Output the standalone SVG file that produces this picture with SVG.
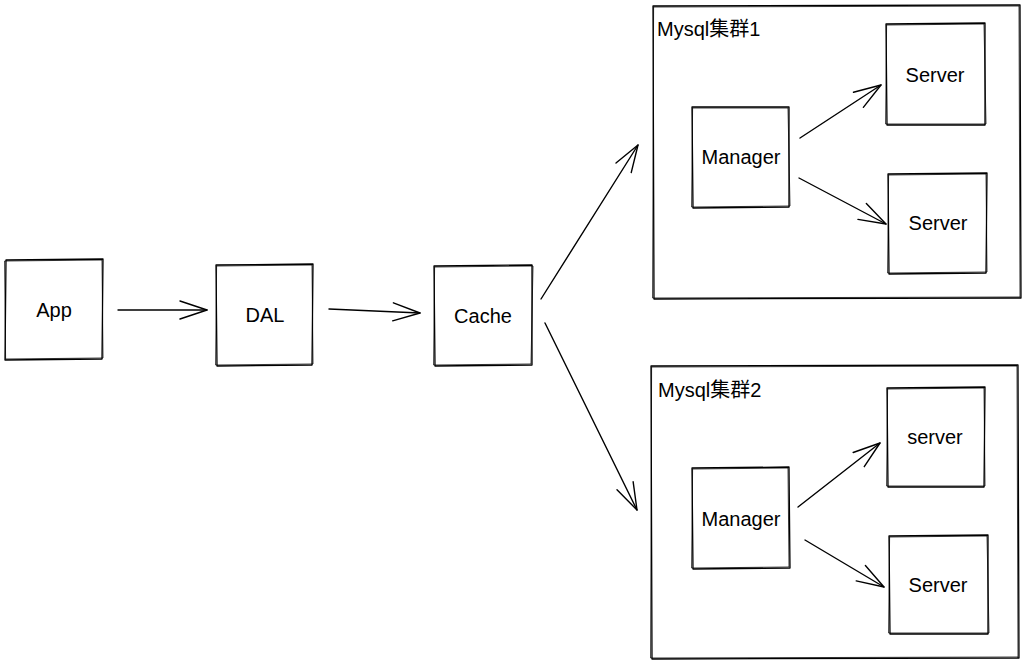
<svg xmlns="http://www.w3.org/2000/svg" width="1028" height="667" viewBox="0 0 1028 667">
<defs>
<style>
.sk{fill:none;stroke:#000;stroke-width:1.3;stroke-linejoin:round;stroke-linecap:round}
.sk2{fill:none;stroke:#000;stroke-width:0.9;stroke-linecap:round;opacity:0.85}
.lbl{font-family:"Liberation Sans",Arial,"Noto Sans CJK SC",sans-serif;font-size:20px;fill:#000}
.c{text-anchor:middle}
.ar{fill:none;stroke:#000;stroke-width:1.4;stroke-linecap:round}
</style>
<marker id="ah" markerUnits="userSpaceOnUse" markerWidth="30" markerHeight="22" refX="28" refY="11" orient="auto" viewBox="0 0 30 22">
<path d="M1,2 L28,11 L1,20" fill="none" stroke="#000" stroke-width="1.4" stroke-linecap="round" stroke-linejoin="round"/>
</marker>
</defs>
<rect width="1028" height="667" fill="#fff"/>

<g id="cluster1">
<path class="sk" d="M653,6 L1020,5 L1021,298 L654,299 Z"/>
<path class="sk2" d="M654,7 L1019,6 L1020,297 L653,298 Z"/>
<text class="lbl" x="657" y="36">Mysql集群1</text>
</g>
<g id="cluster2">
<path class="sk" d="M651,366 L1018,365 L1019,658 L652,659 Z"/>
<path class="sk2" d="M652,367 L1017,366 L1018,657 L651,658 Z"/>
<text class="lbl" x="658" y="397">Mysql集群2</text>
</g>

<g id="app">
<path class="sk" d="M6,260 L103,259 L102,359 L5,360 Z"/>
<path class="sk2" d="M5,261 L102,260 L103,358 L6,359 Z"/>
<text class="lbl c" x="54" y="317">App</text>
</g>
<g id="dal">
<path class="sk" d="M216,265 L313,264 L312,365 L217,366 Z"/>
<path class="sk2" d="M217,266 L312,265 L313,364 L216,365 Z"/>
<text class="lbl c" x="265" y="322">DAL</text>
</g>
<g id="cache">
<path class="sk" d="M434,266 L532,265 L532,365 L435,366 Z"/>
<path class="sk2" d="M435,267 L533,266 L531,364 L434,365 Z"/>
<text class="lbl c" x="483" y="323">Cache</text>
</g>

<g id="manager1">
<path class="sk" d="M692,107 L789,107 L789,207 L693,208 Z"/>
<path class="sk2" d="M693,108 L788,108 L790,206 L692,207 Z"/>
<text class="lbl c" x="741" y="164">Manager</text>
</g>
<g id="server1a">
<path class="sk" d="M886,24 L985,23 L985,125 L887,125 Z"/>
<path class="sk2" d="M887,25 L984,24 L986,124 L886,124 Z"/>
<text class="lbl c" x="935" y="82">Server</text>
</g>
<g id="server1b">
<path class="sk" d="M888,174 L987,173 L986,273 L889,274 Z"/>
<path class="sk2" d="M889,175 L986,174 L987,272 L888,273 Z"/>
<text class="lbl c" x="938" y="230">Server</text>
</g>

<g id="manager2">
<path class="sk" d="M692,468 L789,467 L790,568 L693,569 Z"/>
<path class="sk2" d="M693,469 L788,468 L789,567 L692,568 Z"/>
<text class="lbl c" x="741" y="526">Manager</text>
</g>
<g id="server2a">
<path class="sk" d="M887,388 L985,387 L984,487 L888,487 Z"/>
<path class="sk2" d="M888,389 L984,388 L985,486 L887,486 Z"/>
<text class="lbl c" x="935" y="444">server</text>
</g>
<g id="server2b">
<path class="sk" d="M889,536 L988,535 L988,634 L890,634 Z"/>
<path class="sk2" d="M890,537 L987,536 L989,633 L889,633 Z"/>
<text class="lbl c" x="938" y="592">Server</text>
</g>

<g id="connectors">
<path class="ar" d="M118,310 L207,310" marker-end="url(#ah)"/>
<path class="ar" d="M329,309 L420,313" marker-end="url(#ah)"/>
<path class="ar" d="M541,299 L638,145" marker-end="url(#ah)"/>
<path class="ar" d="M545,323 L637,510" marker-end="url(#ah)"/>
<path class="ar" d="M800,138 L881,85" marker-end="url(#ah)"/>
<path class="ar" d="M799,178 L886,224" marker-end="url(#ah)"/>
<path class="ar" d="M798,507 L880,443" marker-end="url(#ah)"/>
<path class="ar" d="M805,540 L884,587" marker-end="url(#ah)"/>
</g>
</svg>
